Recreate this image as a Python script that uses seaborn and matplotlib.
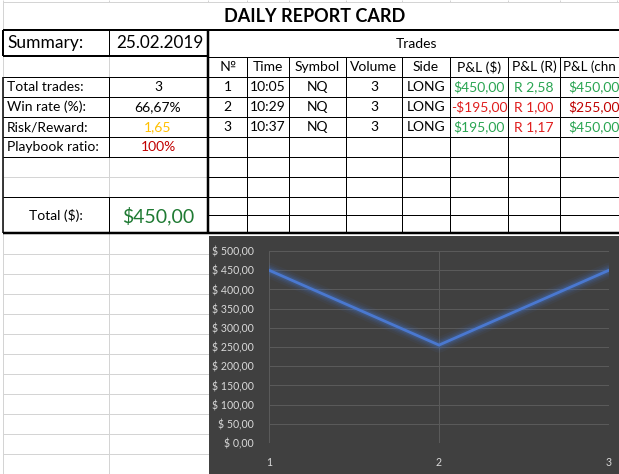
import matplotlib
matplotlib.use("Agg")
import matplotlib.pyplot as plt
from matplotlib.patches import Rectangle
import seaborn as sns
import pandas as pd

# ---------------- data ----------------
title = "DAILY REPORT CARD"
summary_title = "Summary:"
summary_date = "25.02.2019"
summary_labels = ["Total trades:", "Win rate (%):", "Risk/Reward:", "Playbook ratio:"]
summary_values = ["3", "66,67%", "1,65", "100%"]
total_label = "Total ($):"
total_value = 450.00
risk_reward = 1.65

trades_title = "Trades"
trade_headers = ["№", "Time", "Symbol", "Volume", "Side", "P&L ($)", "P&L (R)", "P&L (chn"]
trade_no = [1, 2, 3]
trade_time = ["10:05", "10:29", "10:37"]
trade_symbol = ["NQ", "NQ", "NQ"]
trade_volume = [3, 3, 3]
trade_side = ["LONG", "LONG", "LONG"]
pnl_usd = [450.00, -195.00, 195.00]
pnl_r = [2.58, 1.00, 1.17]
pnl_cum = [450.00, 255.00, 450.00]

chart_x = [1, 2, 3]
chart_ticks = [0, 50, 100, 150, 200, 250, 300, 350, 400, 450, 500]

# ---------------- style ----------------
sns.set_theme(style="white")
plt.rcParams["font.family"] = ["Lato", "DejaVu Sans"]

W, H = 619, 474
DPI = 100
PX = 72.0 / DPI
BLACK = "#000000"
GRAY = "#d4d4d4"
GREEN = "#2aa552"
DGREEN = "#1f7a33"
RED = "#e01e1e"
DRED = "#c00000"
GOLD = "#ffc000"
BODY = 10.0


def money(v):
    s = f"${abs(v):,.2f}".replace(",", " ").replace(".", ",").replace(" ", ".")
    return ("-" + s) if v < 0 else s


fig = plt.figure(figsize=(W / DPI, H / DPI), dpi=DPI)
fig.patch.set_facecolor("white")
ax0 = fig.add_axes([0, 0, 1, 1])
ax0.set_xlim(0, W)
ax0.set_ylim(H, 0)
ax0.axis("off")


def hl(y, x0, x1, c=BLACK, w=1):
    ax0.plot([x0, x1], [y, y], color=c, lw=w * PX, solid_capstyle="butt", zorder=3 if c == BLACK else 2)


def vl(x, y0, y1, c=BLACK, w=1):
    ax0.plot([x, x], [y0, y1], color=c, lw=w * PX, solid_capstyle="butt", zorder=3 if c == BLACK else 2)


def txt(x, y, s, ha="center", size=BODY, color="black", weight="normal"):
    ax0.text(x, y, s, ha=ha, va="center", fontsize=size, color=color, weight=weight, clip_on=True)


# sheet gridlines (top partial row and bottom area)
hl(2, 3, W, GRAY)
for xx in [109, 208, 247, 289, 346, 402, 450, 508, 560, 617]:
    vl(xx, 0, 2, GRAY)
vl(3, 0, H, GRAY)
for yy in range(254, H, 20):
    hl(yy, 3, 209, GRAY)
vl(109, 233, H, GRAY)

# title
txt(315, 16, title, size=13, weight="bold")

# frame lines
hl(30, 3, W, BLACK, 2)
hl(56, 3, 208, BLACK, 2)
hl(233, 3, W, BLACK, 2.5)
vl(3, 30, 56, BLACK, 2)
vl(3, 56, 77, GRAY)
vl(3, 77, 233, BLACK, 1.5)
vl(208, 30, 233, BLACK, 2.5)

# left summary block
vl(109, 30, 56, BLACK)
vl(109, 56, 77, GRAY)
vl(109, 77, 157, BLACK)
vl(109, 157, 197, GRAY)
vl(109, 197, 233, BLACK)
for yy, c in [(77, BLACK), (97, BLACK), (117, BLACK), (137, BLACK), (157, BLACK), (177, GRAY), (197, BLACK)]:
    hl(yy, 3, 208, c)

txt(7, 43, summary_title, ha="left", size=12.5)
txt(159.5, 43, summary_date, size=12.3)
val_colors = ["black", "black", GOLD, DRED]
for i, (lab, val) in enumerate(zip(summary_labels, summary_values)):
    yc = 87 + 20 * i
    txt(7, yc, lab, ha="left")
    txt(158, yc, val, color=val_colors[i])
txt(56, 216, total_label)
txt(158, 216, money(total_value), size=14, color=DGREEN)

# trades table
col_edges = [208, 247, 289, 346, 402, 450, 508, 560, 680]
hl(57, 208, W, BLACK)
for yy in [77, 97, 117, 137, 157, 177, 197, 215]:
    hl(yy, 208, W, BLACK)
for xx in col_edges[1:-1]:
    vl(xx, 57, 233, BLACK)
txt(417, 44, trades_title)
centers = [(a + b) / 2 for a, b in zip(col_edges[:-1], col_edges[1:])]
centers[-1] = 594
for j, h in enumerate(trade_headers):
    if j == len(trade_headers) - 1:
        txt(563, 67, h, ha="left", size=9.6)
    else:
        txt(centers[j], 67, h)
for i in range(len(trade_no)):
    yc = 87 + 20 * i
    txt(centers[0], yc, str(trade_no[i]))
    txt(centers[1], yc, trade_time[i])
    txt(centers[2], yc, trade_symbol[i])
    txt(centers[3], yc, str(trade_volume[i]))
    txt(centers[4], yc, trade_side[i])
    txt(centers[5], yc, money(pnl_usd[i]), color=GREEN if pnl_usd[i] >= 0 else RED)
    txt(centers[6], yc, "R " + f"{pnl_r[i]:.2f}".replace(".", ","),
        color=GREEN if pnl_r[i] > risk_reward else RED)
    txt(centers[7], yc, money(pnl_cum[i]), color=GREEN if pnl_usd[i] >= 0 else DRED)

# chart background
ax0.add_patch(Rectangle((209, 236), W - 209, H - 236, facecolor="#404040", edgecolor="none", zorder=4))

# chart
L, R_, T, B = 269, 609, 251, 443
ax = fig.add_axes([L / W, 1 - B / H, (R_ - L) / W, (B - T) / H])
ax.set_facecolor("none")
df = pd.DataFrame({"trade": chart_x, "pnl": pnl_cum})
for lw, a in [(11, 0.07), (8, 0.1), (6, 0.14), (4, 0.22)]:
    sns.lineplot(data=df, x="trade", y="pnl", ax=ax, color="#4472c4", lw=lw, alpha=a)
sns.lineplot(data=df, x="trade", y="pnl", ax=ax, color="#4a78d0", lw=2.0)
ax.set_xlim(1, 3)
ax.set_ylim(0, 500)
ax.set_xticks(chart_x)
ax.set_yticks(chart_ticks)
ax.set_yticklabels([f"$ {v:.2f}".replace(".", ",") for v in chart_ticks])
ax.set_xlabel("")
ax.set_ylabel("")
ax.grid(True, color="#5a5a5a", lw=1 * PX)
ax.set_axisbelow(True)
for s in ax.spines.values():
    s.set_visible(False)
ax.tick_params(axis="both", length=0, colors="#d9d9d9", labelsize=7.6)
ax.tick_params(axis="y", pad=11)
ax.tick_params(axis="x", pad=10)

fig.savefig("out.png", dpi=DPI, facecolor="white")
